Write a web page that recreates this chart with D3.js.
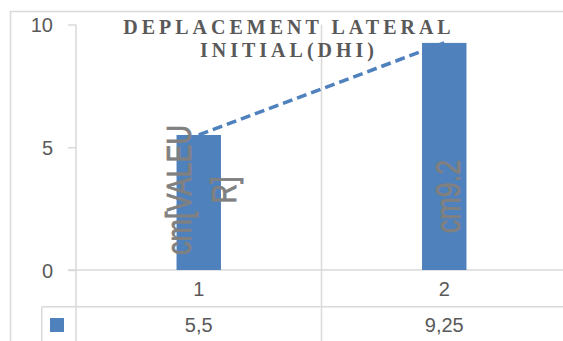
<!DOCTYPE html>
<html>
<head>
<meta charset="utf-8">
<script src="https://cdn.jsdelivr.net/npm/d3@7"></script>
<style>
  html, body { margin: 0; padding: 0; background: #ffffff; }
  svg { display: block; }
</style>
</head>
<body>
<svg id="chart" width="563" height="341"></svg>
<script>
// Lateral displacement per case, with the value row shown under the axis
const categories = ["1", "2"];
const values = [5.5, 9.25];
const tableLabels = ["5,5", "9,25"];
const yTicks = [0, 5, 10];
const titleLines = ["DEPLACEMENT LATERAL", "INITIAL(DHI)"];
const dataLabels = [["cm[VALEU", "R]"], ["cm9.2"]];

const W = 563, H = 341;
const barColor = "#4f81bd";
const gridColor = "#d9d9d9";
const textColor = "#595959";
const labelColor = "#808080";

const svg = d3.select("#chart");

// outer chart frame (runs off the right and bottom edges)
svg.append("rect")
  .attr("x", 10.5).attr("y", 11.5)
  .attr("width", 600).attr("height", 400)
  .attr("fill", "#fff").attr("stroke", gridColor).attr("stroke-width", 1.5);

const plotLeft = 76, plotRight = 567;
const x = d3.scaleBand().domain(categories).range([plotLeft, plotRight]).padding(0);
const y = d3.scaleLinear().domain([0, 10]).range([270, 24.5]);
const barW = x.bandwidth() * 0.181;

const tableTop = 306.7, tableLeft = 41.7;

// vertical grid lines: axis, category separators, continuing into the table
const vLines = [plotLeft, ...categories.slice(1).map(c => x(c)), plotRight];
svg.append("g").selectAll("line").data(vLines).join("line")
  .attr("x1", d => d).attr("x2", d => d)
  .attr("y1", y(10)).attr("y2", H + 5)
  .attr("stroke", gridColor).attr("stroke-width", 1.5);

// y axis with outward ticks
const yAxis = svg.append("g")
  .attr("transform", `translate(${plotLeft},0)`)
  .call(d3.axisLeft(y).tickValues(yTicks).tickSize(8).tickPadding(15).tickFormat(d3.format("d")));
yAxis.select(".domain").remove();
yAxis.selectAll(".tick line").attr("stroke", gridColor).attr("stroke-width", 1.5);
yAxis.selectAll(".tick text")
  .attr("fill", textColor)
  .attr("font-family", "'Liberation Sans', Arial, sans-serif")
  .attr("font-size", 20)
  .attr("dy", "0.36em");

// category axis line and table top line
svg.append("line")
  .attr("x1", plotLeft - 8).attr("x2", W + 5)
  .attr("y1", y(0)).attr("y2", y(0))
  .attr("stroke", gridColor).attr("stroke-width", 1.5);
svg.append("line")
  .attr("x1", tableLeft).attr("x2", W + 5)
  .attr("y1", tableTop).attr("y2", tableTop)
  .attr("stroke", gridColor).attr("stroke-width", 1.5);
svg.append("line")
  .attr("x1", tableLeft).attr("x2", tableLeft)
  .attr("y1", tableTop).attr("y2", H + 5)
  .attr("stroke", gridColor).attr("stroke-width", 1.5);

// bars
svg.append("g").selectAll("rect").data(values).join("rect")
  .attr("x", (d, i) => x(categories[i]) + x.bandwidth() / 2 - barW / 2)
  .attr("y", d => y(d))
  .attr("width", barW)
  .attr("height", d => y(0) - y(d))
  .attr("fill", barColor);

// linear trend line through the bar tops
const trend = d3.line()
  .x((d, i) => x(categories[i]) + x.bandwidth() / 2)
  .y(d => y(d));
svg.append("path")
  .datum(values)
  .attr("d", trend)
  .attr("fill", "none")
  .attr("stroke", barColor)
  .attr("stroke-width", 3.5)
  .attr("stroke-dasharray", "10,5");

// rotated data labels inside the bars (glyphs drawn a little taller than wide)
const labelFont = "'Liberation Sans', Arial, sans-serif";
const labelOffsets = [[-8, 37], [15.5]];
const labelCenters = [190, 196.5];
dataLabels.forEach((lines, i) => {
  const cx = x(categories[i]) + x.bandwidth() / 2;
  lines.forEach((t, j) => {
    const bx = cx + labelOffsets[i][j];
    svg.append("text")
      .attr("transform", `translate(${bx},${labelCenters[i]}) rotate(-90) scale(1,1.3)`)
      .attr("text-anchor", "middle")
      .attr("fill", labelColor)
      .attr("stroke", labelColor)
      .attr("stroke-width", 0.6)
      .attr("font-family", labelFont)
      .attr("font-size", 27)
      .text(t);
  });
});

// category labels
svg.append("g").selectAll("text").data(categories).join("text")
  .attr("x", d => x(d) + x.bandwidth() / 2)
  .attr("y", 289)
  .attr("dy", "0.36em")
  .attr("text-anchor", "middle")
  .attr("fill", textColor)
  .attr("font-family", labelFont)
  .attr("font-size", 20)
  .text(d => d);

// data table row: legend key and values
svg.append("rect")
  .attr("x", 50).attr("y", 318).attr("width", 14).attr("height", 14)
  .attr("fill", barColor);
svg.append("g").selectAll("text").data(tableLabels).join("text")
  .attr("x", (d, i) => x(categories[i]) + x.bandwidth() / 2)
  .attr("y", 325)
  .attr("dy", "0.36em")
  .attr("text-anchor", "middle")
  .attr("fill", textColor)
  .attr("font-family", labelFont)
  .attr("font-size", 20)
  .text(d => d);

// title
const titleBaselines = [33.5, 57];
const titleSpacing = 4;
titleLines.forEach((t, i) => {
  svg.append("text")
    .attr("x", 287 + titleSpacing / 2)
    .attr("y", titleBaselines[i])
    .attr("text-anchor", "middle")
    .attr("fill", textColor)
    .attr("font-family", "'Liberation Serif', 'Times New Roman', serif")
    .attr("font-weight", "bold")
    .attr("font-size", 20)
    .attr("letter-spacing", titleSpacing + "px")
    .text(t);
});
</script>
</body>
</html>
